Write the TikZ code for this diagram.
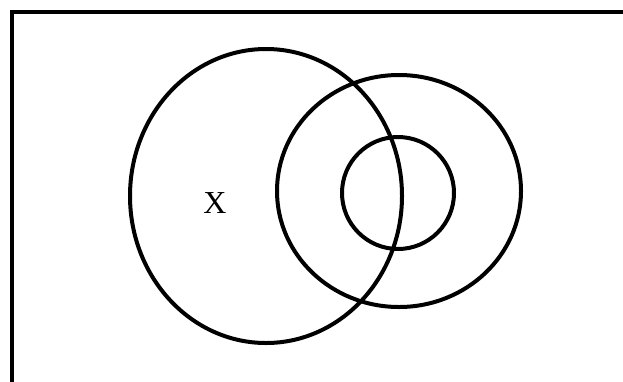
\documentclass[tikz,border=0pt]{standalone}
\usepackage{fontspec}
\setmainfont{Liberation Serif}
\begin{document}
\begin{tikzpicture}[x=1pt,y=-1pt,ring/.style={line width=4pt},lbl/.style={font=\fontsize{32}{32}\selectfont,inner sep=0pt}]
\useasboundingbox (0,0) rectangle (623,381);
\draw[line width=4.5pt] (12,12) rectangle (640,384);
\draw[ring] (266,196) ellipse [x radius=136,y radius=147];
\draw[ring] (399,191) ellipse [x radius=122,y radius=116];
\draw[ring] (398,193) ellipse [x radius=56,y radius=56];
\node[lbl] (x) at (215,203) {X};
\end{tikzpicture}
\end{document}
